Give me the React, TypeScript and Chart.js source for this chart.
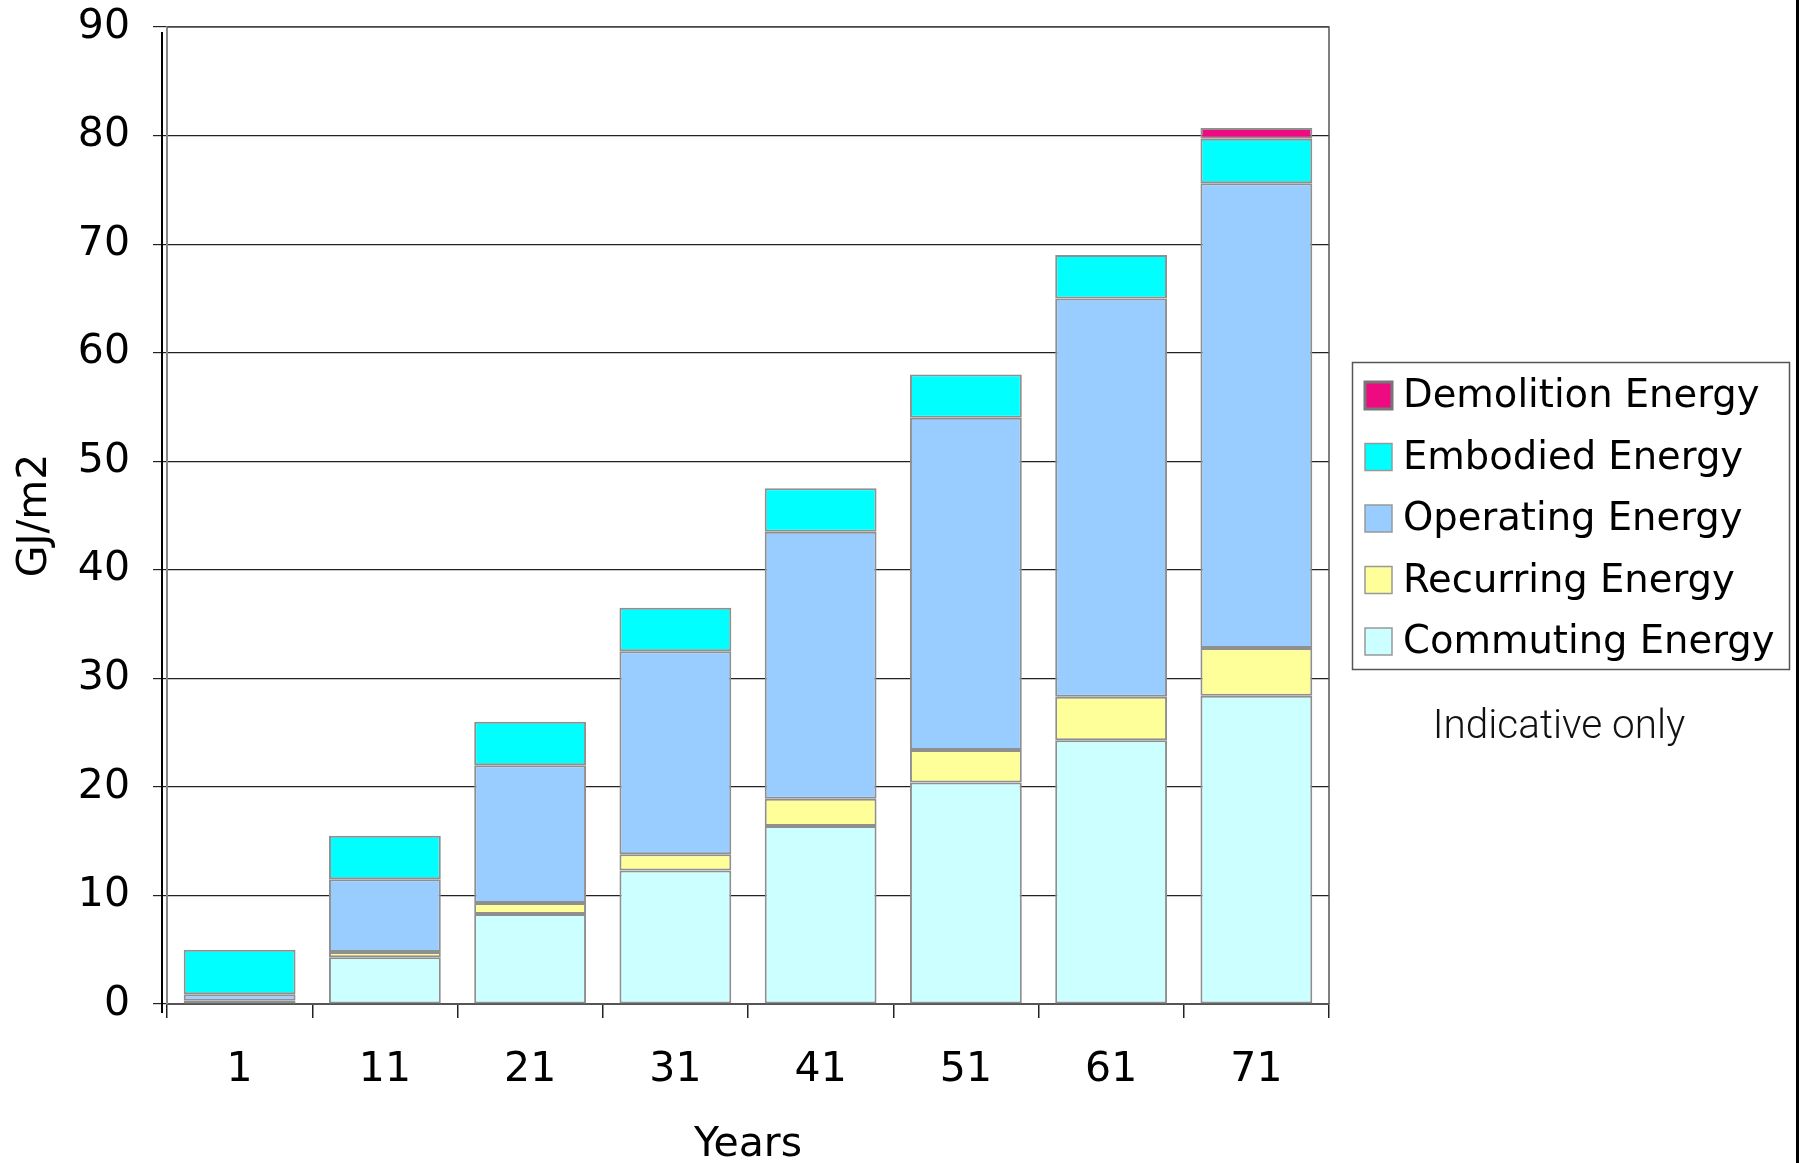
import React, { useEffect, useRef } from "react";
import { Chart, registerables } from "chart.js";

Chart.register(...registerables);

// Life-cycle energy per floor area, cumulative by building age
const years = ["1", "11", "21", "31", "41", "51", "61", "71"];
const commutingEnergy = [0.1, 4.3, 8.3, 12.3, 16.4, 20.4, 24.3, 28.4];
const recurringEnergy = [0.2, 0.5, 1.0, 1.5, 2.5, 3.0, 4.0, 4.4];
const operatingEnergy = [0.6, 6.7, 12.7, 18.7, 24.6, 30.6, 36.7, 42.8];
const embodiedEnergy = [4.1, 4.0, 4.0, 4.0, 4.0, 4.0, 4.0, 4.1];
const demolitionEnergy = [0, 0, 0, 0, 0, 0, 0, 1.0];

const yTicks = [0, 10, 20, 30, 40, 50, 60, 70, 80, 90];
const note = "Indicative only";

const FONT = '"DejaVu Sans", sans-serif';

const frameAndLegend = {
  id: "frameAndLegend",
  afterDraw(chart: any) {
    const { ctx, chartArea: a } = chart;
    ctx.save();

    // top and right edges of the plot frame
    ctx.strokeStyle = "#555";
    ctx.lineWidth = 1.5;
    ctx.beginPath();
    ctx.moveTo(a.left, a.top);
    ctx.lineTo(a.right, a.top);
    ctx.lineTo(a.right, a.bottom);
    ctx.stroke();

    // heavy rule beside the value axis
    ctx.fillStyle = "#000";
    ctx.fillRect(a.left - 6, a.top + 5, 2, a.bottom - a.top + 4);

    // right page edge
    ctx.fillRect(chart.width - 3, 0, 3, chart.height);

    // legend, top entry is the last stacked series
    const boxX = a.right + 23;
    const boxY = 362;
    ctx.strokeStyle = "#555";
    ctx.lineWidth = 1.5;
    ctx.strokeRect(boxX + 0.5, boxY + 0.5, 437, 307);

    const sets = [...chart.data.datasets].reverse();
    ctx.font = `38.5px ${FONT}`;
    ctx.textBaseline = "middle";
    ctx.textAlign = "left";
    sets.forEach((ds: any, i: number) => {
      const sy = boxY + 20 + i * 61.5;
      const sx = boxX + 13;
      ctx.fillStyle = ds.backgroundColor;
      ctx.fillRect(sx, sy, 27, 27);
      ctx.strokeStyle = i === 0 ? "#777" : "#999";
      ctx.lineWidth = i === 0 ? 3 : 1.5;
      ctx.strokeRect(sx, sy, 27, 27);
      ctx.fillStyle = "#000";
      ctx.fillText(ds.label, sx + 38, sy + 15);
    });

    ctx.font = `300 40.5px Roboto, sans-serif`;
    ctx.fillStyle = "#111";
    ctx.textAlign = "center";
    ctx.fillText(note, boxX + 207, 728);
    ctx.restore();
  },
};

export default function App() {
  const ref = useRef<HTMLCanvasElement | null>(null);

  useEffect(() => {
    if (!ref.current) return;
    const border = "#8f8f8f";
    const mk = (label: string, data: number[], color: string) => ({
      label,
      data,
      backgroundColor: color,
      borderColor: border,
      borderWidth: 2,
      borderSkipped: false,
      barPercentage: 0.77,
      categoryPercentage: 1,
    });

    const chart = new Chart(ref.current, {
      type: "bar",
      data: {
        labels: years,
        datasets: [
          mk("Commuting Energy", commutingEnergy, "#CCFFFF"),
          mk("Recurring Energy", recurringEnergy, "#FFFF99"),
          mk("Operating Energy", operatingEnergy, "#99CCFF"),
          mk("Embodied Energy", embodiedEnergy, "#00FFFF"),
          mk("Demolition Energy", demolitionEnergy, "#EE0A80"),
        ],
      },
      options: {
        responsive: false,
        animation: false,
        layout: { padding: { left: 0, top: 27, right: 470, bottom: 0 } },
        plugins: {
          legend: { display: false },
          tooltip: { enabled: false },
        },
        scales: {
          x: {
            stacked: true,
            grid: {
              offset: true,
              drawOnChartArea: false,
              drawTicks: true,
              tickLength: 14,
              color: "#222",
              lineWidth: 1.5,
            },
            border: { color: "#555", width: 2 },
            ticks: {
              color: "#000",
              font: { family: FONT, size: 41 },
              padding: 28,
            },
            title: {
              display: true,
              text: "Years",
              color: "#000",
              font: { family: FONT, size: 41 },
              padding: { top: 0, bottom: -7 },
            },
            afterFit: (s: any) => {
              s.height = 159;
            },
          },
          y: {
            stacked: true,
            min: 0,
            max: 90,
            afterBuildTicks: (s: any) => {
              s.ticks = yTicks.map((v) => ({ value: v }));
            },
            grid: {
              color: "#222",
              lineWidth: 1.2,
              tickLength: 14,
            },
            border: { color: "#888", width: 2 },
            ticks: {
              color: "#000",
              font: { family: FONT, size: 41 },
              padding: 23,
            },
            title: {
              display: true,
              text: "GJ/m2",
              color: "#000",
              font: { family: FONT, size: 41 },
              padding: { top: 11, bottom: 0 },
            },
            afterFit: (s: any) => {
              s.width = 167;
              s.paddingTop = 0;
              s.paddingBottom = 0;
            },
          },
        },
      },
      plugins: [frameAndLegend],
    });
    return () => chart.destroy();
  }, []);

  return (
    <div
      style={{
        position: "absolute",
        left: 0,
        top: 0,
        width: 1799,
        height: 1163,
        background: "#fff",
      }}
    >
      <canvas ref={ref} width={1799} height={1163} style={{ display: "block" }} />
    </div>
  );
}
